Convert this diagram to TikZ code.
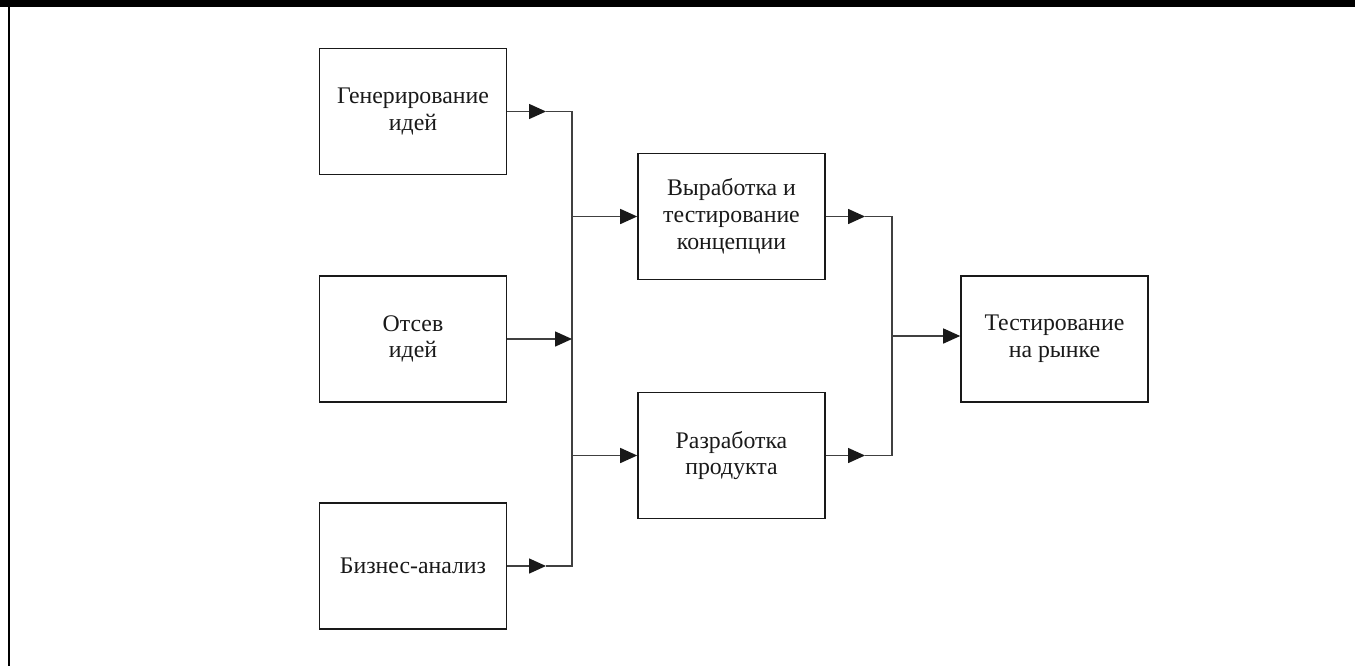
\documentclass[tikz,border=0pt]{standalone}
\usepackage{fontspec}
\setmainfont{Liberation Serif}
\usetikzlibrary{arrows.meta}
\begin{document}
\begin{tikzpicture}[x=1pt,y=-1pt,
  stage/.style={draw=black!90,line width=1.6pt,minimum width=187pt,minimum height=126pt,
    inner sep=0pt,align=center,font=\fontsize{23.8}{26.8}\selectfont,text=black!90},
  link/.style={draw=black!75,line width=1.5pt},
  tip/.style={-{Triangle[length=17pt,width=15pt,color=black!90,fill=black!90]},link},
  frame/.style={fill=black}]
  \useasboundingbox (0,0) rectangle (1355,666);
  % page frame: top bar and left rule
  \fill[frame] (0,0) rectangle (1355,7);
  \fill[frame] (8,7) rectangle (9.6,666);

  % stages
  \node[stage] (gen) at (413,111.5) {Генерирование\\идей};
  \node[stage] (scr) at (413,339) {Отсев\\идей};
  \node[stage] (biz) at (413,566) {Бизнес-анализ};
  \node[stage] (con) at (731.5,216.5) {Выработка и\\тестирование\\концепции};
  \node[stage] (dev) at (731.5,455.5) {Разработка\\продукта};
  \node[stage] (mkt) at (1054.5,339) {Тестирование\\на рынке};

  % junction points
  \coordinate (ja) at (546,111.5);
  \coordinate (jb) at (546,566);
  \coordinate (bus1t) at (572,111.5);
  \coordinate (bus1b) at (572,566);
  \coordinate (jc) at (865,216.5);
  \coordinate (jd) at (865,455.5);
  \coordinate (bus2t) at (892,216.5);
  \coordinate (bus2b) at (892,455.5);
  \coordinate (bus2m) at (892,336);

  % first collector
  \draw[tip] (gen.east) -- (ja);
  \draw[tip] (biz.east) -- (jb);
  \draw[link] (ja) -- (bus1t) -- (bus1b) -- (jb);
  \draw[tip] (scr.east) -- (scr.east -| bus1t);
  \draw[tip] (bus1t |- con.west) -- (con.west);
  \draw[tip] (bus1t |- dev.west) -- (dev.west);

  % second collector
  \draw[tip] (con.east) -- (jc);
  \draw[tip] (dev.east) -- (jd);
  \draw[link] (jc) -- (bus2t) -- (bus2b) -- (jd);
  \draw[tip] (bus2m) -- (bus2m -| mkt.west);
\end{tikzpicture}
\end{document}
